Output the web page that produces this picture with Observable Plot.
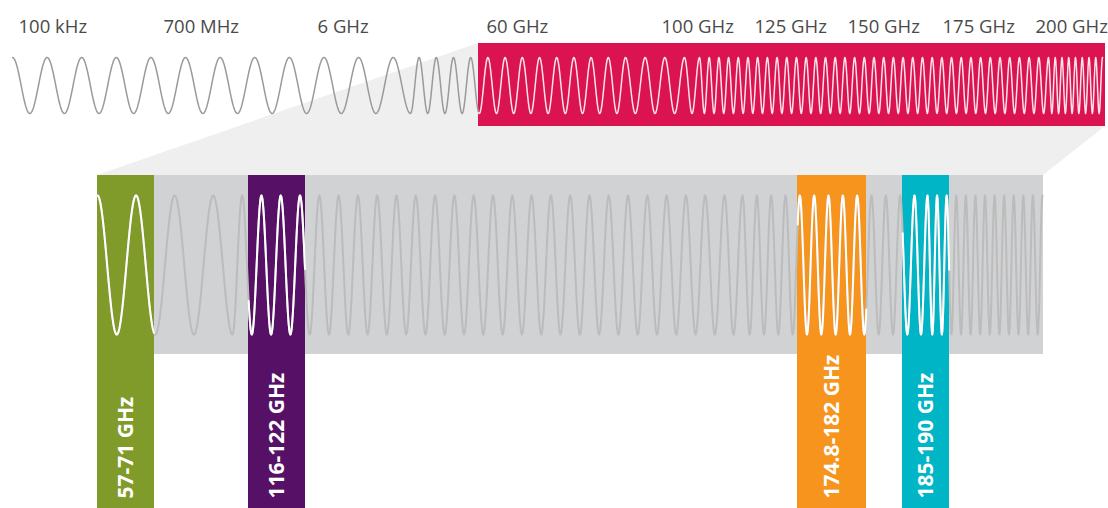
<!DOCTYPE html>
<html><head><meta charset="utf-8">
<script src="https://cdn.jsdelivr.net/npm/d3@7"></script>
<script src="https://cdn.jsdelivr.net/npm/@observablehq/plot@0.6"></script>
<style>
html,body{margin:0;padding:0;background:#fff}
svg{display:block}
</style>
</head><body><div id="chart"></div>
<script>
// ---------- data ----------
// frequency labels above the full-spectrum strip
const scaleLabels = ["100 kHz", "700 MHz", "6 GHz", "60 GHz", "100 GHz", "125 GHz", "150 GHz", "175 GHz", "200 GHz"];
const scaleLabelAt = [18, 163, 317, 486, 661, 754, 847, 942, 1035];

// highlighted bands in the zoomed strip
const bandNames = ["57-71 GHz", "116-122 GHz", "174.8-182 GHz", "185-190 GHz"];
const bandFrom = [97, 248, 797, 902];
const bandTo = [154, 305, 866, 949];

// wave extrema, as segments [start, end, number of half cycles] (starts on a crest)
const topWaveSegments = [[12, 410, 23], [410, 625, 25], [625, 684, 6], [684, 699, 2], [699, 1048, 72], [1048, 1102, 16]];
const zoomWaveSegments = [[97, 232, 7], [232, 724, 51], [724, 742, 2], [742, 914, 24], [914, 927, 2], [927, 1042, 24]];

// ---------- layout & style ----------
const W = 1108, H = 508;
const highlight = {x1: 478, x2: 1105, y1: 43, y2: 126};
const zoomStrip = {x1: 97, x2: 1043, y1: 175, y2: 354};
const bandBottom = 508;
const topWave = {mid: 85, amp: 28};
const zoomWave = {mid: 264.5, amp: 69.5};
const bandColors = ["#809b29", "#561166", "#f7941e", "#00b5c6"];
const pink = "#dc1351";

function wavePoints(segs, mid, amp) {
  const pts = [];
  let k = 0;
  for (const [a, b, n] of segs) {
    const h = (b - a) / n;
    for (let i = 0; i < n; i++) {
      const e0 = a + i * h, sign = (k % 2 === 0) ? -1 : 1;
      for (let s = 0; s < h; s += 0.5) {
        pts.push({x: e0 + s, y: mid + sign * amp * Math.cos(Math.PI * s / h)});
      }
      k++;
    }
  }
  const last = segs[segs.length - 1][1];
  pts.push({x: last, y: mid + ((k % 2 === 0) ? -1 : 1) * amp});
  return pts;
}

const topPts = wavePoints(topWaveSegments, topWave.mid, topWave.amp);
const zoomPts = wavePoints(zoomWaveSegments, zoomWave.mid, zoomWave.amp);

const bands = bandNames.map((name, i) => ({name, from: bandFrom[i], to: bandTo[i], color: bandColors[i]}));
const labels = scaleLabels.map((t, i) => ({t, x: scaleLabelAt[i]}));

// connector from the highlighted part of the spectrum to the zoomed strip
const connector = [
  {x: zoomStrip.x1, top: zoomStrip.y1, bottom: zoomStrip.y1},
  {x: highlight.x1, top: highlight.y1, bottom: zoomStrip.y1},
  {x: zoomStrip.x2, top: highlight.y1, bottom: zoomStrip.y1},
  {x: highlight.x2, top: highlight.y1, bottom: highlight.y2}
];

const whiteZoom = [];
for (const b of bands) for (const p of zoomPts) if (p.x >= b.from && p.x <= b.to) whiteZoom.push({...p, band: b.name});

const chart = Plot.plot({
  width: W, height: H, margin: 0,
  x: {domain: [0, W], range: [0, W], axis: null},
  y: {domain: [0, H], range: [0, H], axis: null},
  style: {fontFamily: "'Open Sans', sans-serif", background: "#fff", overflow: "visible"},
  marks: [
    Plot.areaY(connector, {x: "x", y1: "top", y2: "bottom", fill: "#efefef"}),
    Plot.rect([highlight], {x1: "x1", x2: "x2", y1: "y1", y2: "y2", fill: pink}),
    Plot.rect([zoomStrip], {x1: "x1", x2: "x2", y1: "y1", y2: "y2", fill: "#d1d2d4"}),
    Plot.rect(bands, {x1: "from", x2: "to", y1: () => zoomStrip.y1, y2: () => bandBottom, fill: "color"}),
    Plot.line(topPts.filter(p => p.x <= highlight.x1), {x: "x", y: "y", stroke: "#9a9a9a", strokeWidth: 1.5}),
    Plot.line(topPts.filter(p => p.x >= highlight.x1), {x: "x", y: "y", stroke: "#fbe3ea", strokeWidth: 1.5}),
    Plot.line(zoomPts, {x: "x", y: "y", stroke: "#bcbcbc", strokeWidth: 2}),
    Plot.line(whiteZoom, {x: "x", y: "y", z: "band", stroke: "#ffffff", strokeWidth: 2}),
    Plot.text(labels, {x: "x", y: () => 32, text: "t", textAnchor: "start", lineAnchor: "bottom", fontSize: 18.5, fill: "#4a4a4a"}),
    Plot.text(bands, {x: d => (d.from + d.to) / 2, y: () => 498, text: "name", rotate: -90, textAnchor: "start", lineAnchor: "middle", fontSize: 21, fontWeight: 700, fill: "#ffffff"})
  ]
});
document.getElementById("chart").appendChild(chart);
</script>
</body></html>
